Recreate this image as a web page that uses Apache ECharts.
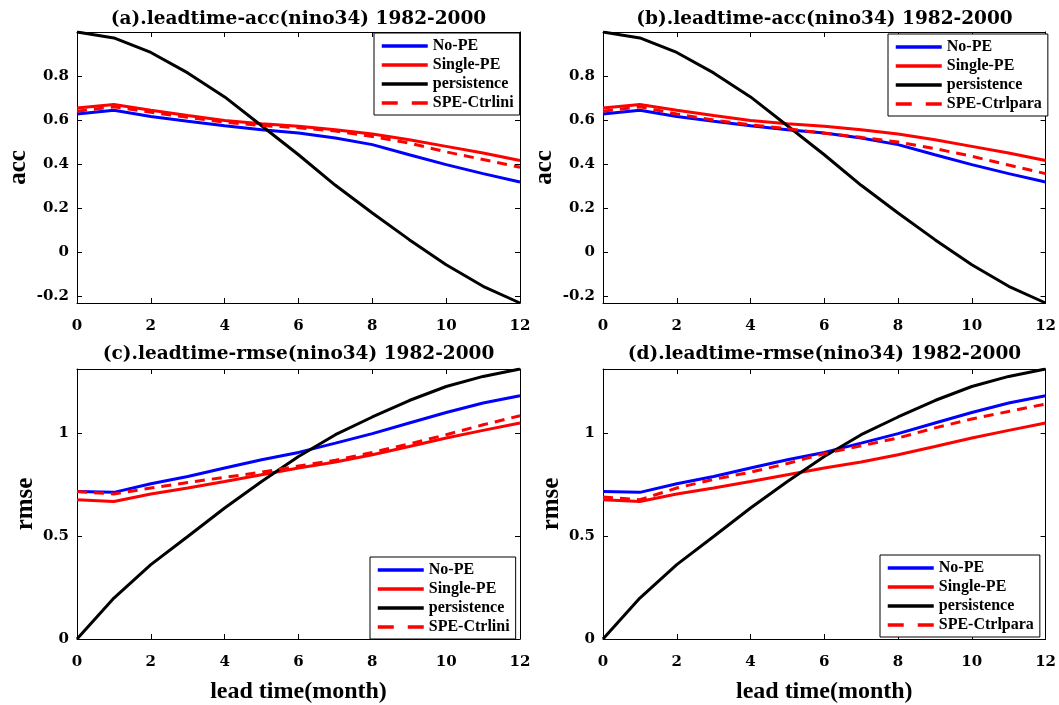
<!DOCTYPE html>
<html><head><meta charset="utf-8">
<script src="https://cdn.jsdelivr.net/npm/echarts@6/dist/echarts.min.js"></script>
<style>html,body{margin:0;padding:0;background:#fff}#c{width:1059px;height:705px}</style>
</head><body><div id="c"></div>
<script>
// ---- data ----
const leadTime = [0,1,2,3,4,5,6,7,8,9,10,11,12];
const accNoPE      = [0.627,0.644,0.616,0.594,0.574,0.556,0.541,0.518,0.488,0.442,0.397,0.356,0.318];
const accSinglePE  = [0.654,0.670,0.644,0.620,0.598,0.583,0.571,0.556,0.536,0.510,0.480,0.450,0.416];
const accPersist   = [1.000,0.973,0.907,0.814,0.705,0.574,0.442,0.303,0.177,0.056,-0.058,-0.156,-0.232];
const accCtrlini   = [0.640,0.660,0.635,0.612,0.590,0.575,0.565,0.550,0.525,0.495,0.455,0.420,0.385];
const accCtrlpara  = [0.640,0.660,0.627,0.600,0.578,0.560,0.540,0.521,0.500,0.470,0.435,0.395,0.356];
const rmseNoPE     = [0.716,0.712,0.754,0.789,0.830,0.870,0.906,0.951,0.997,1.049,1.100,1.146,1.181];
const rmseSinglePE = [0.676,0.668,0.704,0.733,0.765,0.798,0.830,0.859,0.895,0.935,0.976,1.013,1.049];
const rmsePersist  = [0.000,0.199,0.361,0.498,0.636,0.765,0.886,0.992,1.078,1.158,1.226,1.275,1.311];
const rmseCtrlini  = [0.716,0.704,0.733,0.760,0.785,0.810,0.840,0.868,0.906,0.947,0.992,1.040,1.084];
const rmseCtrlpara = [0.690,0.676,0.733,0.775,0.810,0.852,0.900,0.938,0.976,1.025,1.068,1.105,1.141];
const accTicks  = [-0.2,0,0.2,0.4,0.6,0.8];
const rmseTicks = [0,0.5,1];
const titles = ['(a).leadtime-acc(nino34) 1982-2000','(b).leadtime-acc(nino34) 1982-2000',
                '(c).leadtime-rmse(nino34) 1982-2000','(d).leadtime-rmse(nino34) 1982-2000'];
const seriesNames = ['No-PE','Single-PE','persistence'];

// ---- layout / build ----
const WIDE = '"DejaVu Serif",serif';
const TIMES = '"Liberation Serif","Times New Roman",serif';
const panels = [
  {left:77, top:32, w:443, h:271, ymin:-0.232, ymax:1.0, ticks:accTicks, yname:'acc', ygap:46, xname:'', titleTop:10,
   data:[accNoPE,accSinglePE,accPersist,accCtrlini], spe:'SPE-Ctrlini', leg:{left:374, top:33}},
  {left:603, top:32, w:443, h:271, ymin:-0.232, ymax:1.0, ticks:accTicks, yname:'acc', ygap:46, xname:'', titleTop:10,
   data:[accNoPE,accSinglePE,accPersist,accCtrlpara], spe:'SPE-Ctrlpara', leg:{left:888, top:34}},
  {left:77, top:369, w:443, h:270, ymin:0, ymax:1.311, ticks:rmseTicks, yname:'rmse', ygap:39, xname:'lead time(month)', titleTop:345,
   data:[rmseNoPE,rmseSinglePE,rmsePersist,rmseCtrlini], spe:'SPE-Ctrlini', leg:{left:370, top:557}},
  {left:603, top:369, w:443, h:270, ymin:0, ymax:1.311, ticks:rmseTicks, yname:'rmse', ygap:39, xname:'lead time(month)', titleTop:345,
   data:[rmseNoPE,rmseSinglePE,rmsePersist,rmseCtrlpara], spe:'SPE-Ctrlpara', leg:{left:880, top:555}}
];
const colors = ['#0000ff','#ff0000','#000000','#ff0000'];
const grid=[], xAxis=[], yAxis=[], series=[], legend=[], title=[];
const axisText = {color:'#000', fontFamily:WIDE, fontWeight:'bold', fontSize:15};
panels.forEach((p,i)=>{
  grid.push({left:p.left, top:p.top, width:p.w, height:p.h, containLabel:false});
  title.push({text:titles[i], left:p.left+p.w/2, top:p.titleTop, textAlign:'center', padding:0,
    textStyle:{color:'#000', fontFamily:WIDE, fontWeight:'bold', fontSize:18.5}});
  const baseX = {type:'value', gridIndex:i, min:0, max:12, interval:2,
    axisLine:{show:true, onZero:false, lineStyle:{color:'#000', width:1}},
    axisTick:{show:true, inside:true, length:5, lineStyle:{color:'#000'}},
    splitLine:{show:false}};
  xAxis.push(Object.assign({}, baseX, {position:'bottom',
    axisLabel:Object.assign({margin:16}, axisText),
    name:p.xname, nameLocation:'middle', nameGap:41,
    nameTextStyle:{color:'#000', fontFamily:TIMES, fontWeight:'bold', fontSize:24}}));
  xAxis.push(Object.assign({}, baseX, {position:'top', axisLabel:{show:false}}));
  const baseY = {type:'value', gridIndex:i, min:p.ymin, max:p.ymax,
    axisLine:{show:true, onZero:false, lineStyle:{color:'#000', width:1}},
    axisTick:{show:true, inside:true, length:5, lineStyle:{color:'#000'}, customValues:p.ticks},
    splitLine:{show:false}};
  yAxis.push(Object.assign({}, baseY, {position:'left',
    axisLabel:Object.assign({margin:8, customValues:p.ticks}, axisText),
    name:p.yname, nameLocation:'middle', nameGap:p.ygap,
    nameTextStyle:{color:'#000', fontFamily:TIMES, fontWeight:'bold', fontSize:25}}));
  yAxis.push(Object.assign({}, baseY, {position:'right', axisLabel:{show:false}}));
  const names = seriesNames.concat([p.spe]);
  names.forEach((n,k)=>{
    series.push({type:'line', name:n, xAxisIndex:2*i, yAxisIndex:2*i, symbol:'none', smooth:false,
      silent:true, animation:false,
      data:leadTime.map((x,j)=>[x,p.data[k][j]]),
      lineStyle:{color:colors[k], width:3, type:k===3?[10,7]:'solid'},
      itemStyle:{color:colors[k]}});
  });
  legend.push({
    data:names.map((n,k)=> k===3 ? {name:n, lineStyle:{type:[16,14], width:3.5}} : {name:n}),
    orient:'vertical', left:p.leg.left, top:p.leg.top,
    itemWidth:46, itemHeight:12, itemGap:3, padding:[5,6,4,6],
    borderColor:'#000', borderWidth:1, backgroundColor:'#fff',
    selectedMode:false,
    itemStyle:{opacity:0},
    lineStyle:{width:3.5},
    textStyle:{color:'#000', fontFamily:TIMES, fontWeight:'bold', fontSize:16}});
});
const chart = echarts.init(document.getElementById('c'), null, {renderer:'canvas'});
chart.setOption({animation:false, backgroundColor:'#fff', title, grid, xAxis, yAxis, series, legend});
</script></body></html>
